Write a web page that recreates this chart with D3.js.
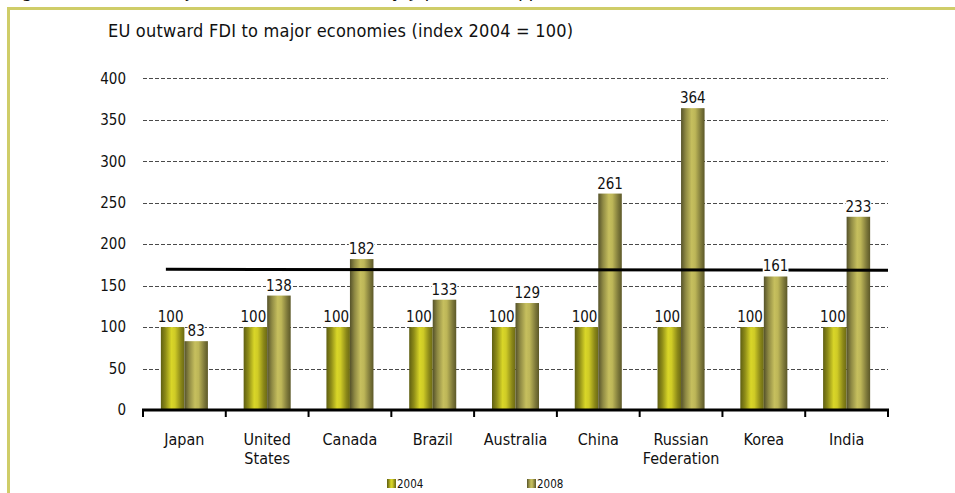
<!DOCTYPE html>
<html>
<head>
<meta charset="utf-8">
<script src="https://cdn.jsdelivr.net/npm/d3@7/dist/d3.min.js"></script>
<style>
html,body{margin:0;padding:0;background:#fff;}
svg{display:block;}
text{font-family:"DejaVu Sans Condensed","DejaVu Sans",sans-serif;font-stretch:condensed;fill:#111;}
</style>
</head>
<body>
<svg id="chart" width="955" height="493"></svg>
<script>
// ---- data ----
const categories = ["Japan","United States","Canada","Brazil","Australia","China","Russian Federation","Korea","India"];
const seriesNames = ["2004","2008"];
const values2004 = [100,100,100,100,100,100,100,100,100];
const values2008 = [83,138,182,133,129,261,364,161,233];
const yTicks = [0,50,100,150,200,250,300,350,400];
const refLineValues = [169.7,168.5];   // hand-drawn horizontal reference line (start, end)
const titleText = "EU outward FDI to major economies (index 2004 = 100)";
const figureText = "Figure 6: EU FDI to major economies rose steadily, Japan has dropped";

const svg = d3.select("#chart");
const defs = svg.append("defs");

// gradients
function grad(id, stops){
  const g = defs.append("linearGradient").attr("id",id).attr("x1","0%").attr("x2","100%").attr("y1","0%").attr("y2","0%");
  stops.forEach(s=>g.append("stop").attr("offset",s[0]).attr("stop-color",s[1]));
}
grad("g2004",[["0%","#5f5f12"],["20%","#8e8c18"],["45%","#d9d628"],["60%","#cfcb26"],["85%","#8a8718"],["100%","#6c6a14"]]);
grad("g2008",[["0%","#55522a"],["20%","#8f8a44"],["45%","#c6bf5e"],["60%","#bdb658"],["85%","#7d783a"],["100%","#5c5828"]]);
const fills = {"2004":"url(#g2004)","2008":"url(#g2008)"};

// frame
svg.append("line").attr("x1",7).attr("x2",955).attr("y1",8.5).attr("y2",8.5).attr("stroke","#cfcd68").attr("stroke-width",3);
svg.append("line").attr("x1",8.5).attr("x2",8.5).attr("y1",7).attr("y2",493).attr("stroke","#cfcd68").attr("stroke-width",3);

// clipped figure caption above frame
svg.append("text").attr("x",10).attr("y",-3).attr("font-size",20).attr("textLength",550).attr("lengthAdjust","spacing").text(figureText);

// scales
const x = d3.scaleBand().domain(categories).range([143,888]).paddingInner(0).paddingOuter(0);
const xs = d3.scaleBand().domain(seriesNames).range([0,x.bandwidth()]).paddingInner(0).paddingOuter(0.76);
const y = d3.scaleLinear().domain([0,400]).range([410,78.3]);

// title
svg.append("text").attr("x",108).attr("y",37).attr("font-size",18).attr("textLength",465).attr("lengthAdjust","spacing").text(titleText);

// gridlines
svg.append("g").selectAll("line").data(yTicks.filter(d=>d>0)).join("line")
  .attr("x1",143).attr("x2",888).attr("y1",d=>Math.round(y(d))+0.5).attr("y2",d=>Math.round(y(d))+0.5)
  .attr("stroke","#4a4a4a").attr("stroke-width",1).attr("stroke-dasharray","4,2");

// y axis labels
const yAxis = d3.axisLeft(y).tickValues(yTicks).tickSize(0).tickPadding(0);
const ga = svg.append("g").attr("transform","translate(126,0)").call(yAxis);
ga.select(".domain").remove();
ga.selectAll("text").attr("font-size",15).attr("font-family",null).attr("fill","#111");

// bars
const rows = categories.map((c,i)=>({cat:c, vals:[{s:"2004",v:values2004[i]},{s:"2008",v:values2008[i]}]}));
const gb = svg.append("g");
rows.forEach(r=>{
  r.vals.forEach(d=>{
    gb.append("rect").attr("x",x(r.cat)+xs(d.s)).attr("width",xs.bandwidth())
      .attr("y",y(d.v)).attr("height",y(0)-y(d.v)).attr("fill",fills[d.s]);
  });
});

// reference line
svg.append("line")
  .attr("x1",x(categories[0])+xs("2004")+5).attr("x2",x(categories[categories.length-1])+x.bandwidth())
  .attr("y1",y(refLineValues[0])).attr("y2",y(refLineValues[1]))
  .attr("stroke","#000").attr("stroke-width",3);

// value labels with white background
const gl = svg.append("g");
rows.forEach(r=>{
  r.vals.forEach(d=>{
    const cx = x(r.cat)+xs(d.s)+xs.bandwidth()/2 - (d.s==="2004"?2:0);
    const by = y(d.v)-5;
    const t = gl.append("text").attr("x",cx).attr("y",by).attr("text-anchor","middle").attr("font-size",15).text(d.v);
    const bb = t.node().getBBox();
    if(d.s==="2008") gl.insert("rect","text").attr("x",bb.x).attr("y",bb.y+2).attr("width",bb.width).attr("height",bb.height-4).attr("fill","#fff");
  });
});

// x axis line and ticks
svg.append("line").attr("x1",142).attr("x2",889).attr("y1",410).attr("y2",410).attr("stroke","#000").attr("stroke-width",3);
const bounds = categories.map(c=>x(c)).concat([x.range()[1]]);
svg.append("g").selectAll("line").data(bounds).join("line")
  .attr("x1",d=>d).attr("x2",d=>d).attr("y1",410).attr("y2",417).attr("stroke","#000").attr("stroke-width",2);

// category labels
const gc = svg.append("g");
categories.forEach(c=>{
  const words = c.split(" ");
  words.forEach((w,i)=>{
    gc.append("text").attr("x",x(c)+x.bandwidth()/2).attr("y",445+i*19).attr("text-anchor","middle").attr("font-size",16).text(w);
  });
});

// legend
const legX = {"2004":387,"2008":527};
seriesNames.forEach(s=>{
  svg.append("rect").attr("x",legX[s]).attr("y",479).attr("width",9).attr("height",9).attr("fill",fills[s]);
  svg.append("text").attr("x",legX[s]+10).attr("y",488).attr("font-size",11.5).text(s);
});
</script>
</body>
</html>
